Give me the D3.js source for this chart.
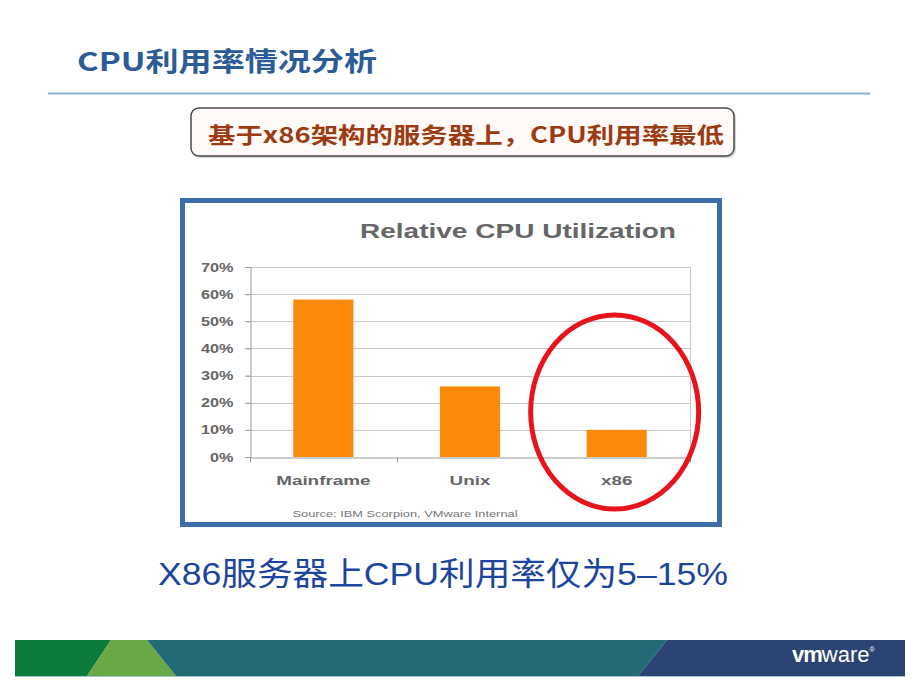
<!DOCTYPE html>
<html>
<head>
<meta charset="utf-8">
<script src="https://cdn.jsdelivr.net/npm/d3@7"></script>
<style>
  html, body { margin: 0; padding: 0; background: #fff; }
  svg { display: block; font-family: "Liberation Sans", Arial, "Noto Sans CJK SC", sans-serif; }
</style>
</head>
<body>
<svg id="c" width="920" height="690"></svg>
<script>
// ---- data ----
const categories = ["Mainframe", "Unix", "x86"];
const utilization = [0.58, 0.26, 0.10];
const yTickValues = [0, 0.1, 0.2, 0.3, 0.4, 0.5, 0.6, 0.7];
const slideTitle = "CPU利用率情况分析";
const calloutText = "基于x86架构的服务器上，CPU利用率最低";
const chartTitle = "Relative CPU Utilization";
const sourceText = "Source: IBM Scorpion, VMware Internal";
const conclusionText = "X86服务器上CPU利用率仅为5–15%";
const highlightCategory = "x86";

const svg = d3.select("#c");

// stretch helper: widen text horizontally by factor (or to a target width)
function stretchTo(sel, width) {
  sel.attr("textLength", width).attr("lengthAdjust", "spacingAndGlyphs");
}
function stretchBy(sel, f) {
  sel.each(function () {
    const w = this.getComputedTextLength();
    d3.select(this).attr("textLength", w * f).attr("lengthAdjust", "spacingAndGlyphs");
  });
}

// ---- slide header ----
const t1 = svg.append("text").attr("x", 77).attr("y", 71)
  .attr("font-size", 26).attr("font-weight", "bold").attr("fill", "#2b5c97")
  .style("font-family", "'Noto Sans CJK SC', sans-serif")
  .text(slideTitle);
stretchTo(t1, 300);

svg.append("line").attr("x1", 48).attr("x2", 870).attr("y1", 93.5).attr("y2", 93.5)
  .attr("stroke", "#8fb0cf").attr("stroke-width", 2);

// ---- callout box ----
svg.append("rect").attr("x", 193).attr("y", 110).attr("width", 543).attr("height", 48)
  .attr("rx", 8).attr("fill", "#bbb").attr("opacity", 0.6);
svg.append("rect").attr("x", 191).attr("y", 108).attr("width", 543).attr("height", 48)
  .attr("rx", 8).attr("fill", "#fffaf8").attr("stroke", "#4a4a4a").attr("stroke-width", 1.5);
const t2 = svg.append("text").attr("x", 208).attr("y", 143)
  .attr("font-size", 22).attr("font-weight", "bold").attr("fill", "#9c3a12")
  .style("font-family", "'Noto Sans CJK SC', sans-serif")
  .text(calloutText);
stretchTo(t2, 516);

// ---- chart frame ----
svg.append("rect").attr("x", 182.5).attr("y", 200.5).attr("width", 537).attr("height", 324)
  .attr("fill", "#fff").attr("stroke", "#3d6ea8").attr("stroke-width", 5);

const ct = svg.append("text").attr("x", 360).attr("y", 238)
  .attr("font-size", 21).attr("font-weight", "bold").attr("fill", "#666")
  .text(chartTitle);
stretchTo(ct, 316);

// ---- scales ----
const plot = { left: 250, right: 690, top: 267, bottom: 457 };
const x = d3.scaleBand().domain(categories).range([plot.left, plot.right])
  .paddingInner(0.59).paddingOuter(0.295);
const y = d3.scaleLinear().domain([0, 0.7]).range([plot.bottom, plot.top]);

// gridlines
svg.append("g").selectAll("line").data(yTickValues.filter(v => v > 0)).join("line")
  .attr("x1", plot.left - 5).attr("x2", plot.right)
  .attr("y1", d => Math.round(y(d)) + 0.5).attr("y2", d => Math.round(y(d)) + 0.5)
  .attr("stroke", "#c9c9c9").attr("stroke-width", 1);
svg.append("line").attr("x1", plot.right + 0.5).attr("x2", plot.right + 0.5)
  .attr("y1", y(0.7)).attr("y2", y(0))
  .attr("stroke", "#c9c9c9");

// bars
svg.append("g").selectAll("rect").data(categories).join("rect")
  .attr("x", d => x(d)).attr("width", x.bandwidth())
  .attr("y", (d, i) => y(utilization[i]))
  .attr("height", (d, i) => y(0) - y(utilization[i]))
  .attr("fill", "#fb8a0a");

// y axis
const yAxis = svg.append("g").attr("transform", `translate(${plot.left + 0.5},0)`)
  .call(d3.axisLeft(y).tickValues(yTickValues).tickFormat(d3.format(".0%"))
    .tickSize(5).tickPadding(12));
yAxis.select(".domain").attr("stroke", "#999");
yAxis.selectAll(".tick line").attr("stroke", "#999");
yAxis.selectAll("text").attr("font-size", 12.5).attr("font-weight", "bold")
  .attr("fill", "#666").style("font-family", "'Liberation Sans', Arial, sans-serif");
stretchBy(yAxis.selectAll("text"), 1.3);

// x axis (line + boundary ticks + labels)
const xAxis = svg.append("g").attr("transform", `translate(0,${plot.bottom + 0.5})`)
  .call(d3.axisBottom(x).tickSize(0).tickPadding(18));
xAxis.select(".domain").attr("stroke", "#999");
xAxis.selectAll("text").attr("font-size", 13).attr("font-weight", "bold")
  .attr("fill", "#666").style("font-family", "'Liberation Sans', Arial, sans-serif");
stretchBy(xAxis.selectAll("text"), 1.45);
const gap = (x.step() - x.bandwidth()) / 2;
const bounds = categories.map(c => x(c) - gap).concat([x(categories[categories.length - 1]) + x.bandwidth() + gap]);
xAxis.selectAll(".btick").data(bounds).join("line").attr("class", "btick")
  .attr("x1", d => Math.round(d) + 0.5).attr("x2", d => Math.round(d) + 0.5)
  .attr("y1", 0).attr("y2", 5).attr("stroke", "#999");

// source
const st = svg.append("text").attr("x", 405).attr("y", 517).attr("text-anchor", "middle")
  .attr("font-size", 9).attr("fill", "#777").text(sourceText);
stretchTo(st, 225);

// highlight ellipse
const hc = x(highlightCategory) + x.bandwidth() / 2;
svg.append("ellipse").attr("cx", hc - 2).attr("cy", 412).attr("rx", 84).attr("ry", 97)
  .attr("fill", "none").attr("stroke", "#e8141c").attr("stroke-width", 5);

// ---- conclusion text ----
const t3 = svg.append("text").attr("x", 158).attr("y", 585)
  .attr("font-size", 32).attr("fill", "#1c45a0")
  .style("font-family", "'Liberation Sans', Arial, 'Noto Sans CJK SC', sans-serif")
  .text(conclusionText);
stretchTo(t3, 570);

// ---- footer band ----
const band = svg.append("g");
band.append("polygon").attr("points", "15,640 111,640 87,676 15,676").attr("fill", "#0c7b3b");
band.append("polygon").attr("points", "111,640 147,640 176,676 87,676").attr("fill", "#69a846");
band.append("polygon").attr("points", "147,640 667,640 638,676 176,676").attr("fill", "#226a76");
band.append("polygon").attr("points", "667,640 905,640 905,676 638,676").attr("fill", "#2c4474");
band.append("line").attr("x1", 15).attr("x2", 905).attr("y1", 676.5).attr("y2", 676.5)
  .attr("stroke", "#a9c4d6").attr("stroke-width", 1);
const logo = band.append("text").attr("x", 792).attr("y", 662).attr("font-size", 22).attr("fill", "#fff")
  .style("font-family", "'Liberation Sans', Arial, sans-serif");
logo.append("tspan").attr("font-weight", "bold").attr("letter-spacing", -1).text("vm");
logo.append("tspan").attr("font-weight", "normal").text("ware");
logo.append("tspan").attr("font-size", 7).attr("dy", -10).text("®");
</script>
</body>
</html>
